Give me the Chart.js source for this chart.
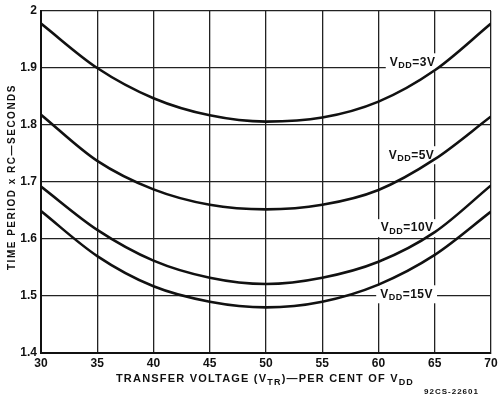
<!DOCTYPE html>
<html>
<head>
<meta charset="utf-8">
<script src="https://cdn.jsdelivr.net/npm/chart.js@4/dist/chart.umd.min.js"></script>
<style>
  html, body { margin: 0; padding: 0; background: #fff; }
  #wrap { position: relative; width: 498px; height: 399px; }
</style>
</head>
<body>
<div id="wrap"><canvas id="chart" width="498" height="399"></canvas></div>
<script>
// transfer voltage, per cent of VDD
const transferPct = [30, 35, 40, 45, 50, 55, 60, 65, 70];

// time period x RC (seconds)
const vdd3 = [1.978, 1.900, 1.847, 1.817, 1.806, 1.813, 1.841, 1.896, 1.978];
const vdd5 = [1.818, 1.737, 1.687, 1.660, 1.652, 1.660, 1.686, 1.740, 1.815];
const vdd10 = [1.692, 1.616, 1.562, 1.532, 1.521, 1.532, 1.560, 1.612, 1.694];
const vdd15 = [1.649, 1.570, 1.517, 1.490, 1.480, 1.490, 1.520, 1.572, 1.648];

const seriesNames = ["3V", "5V", "10V", "15V"];
// where each curve label sits (x %, y seconds)
const labelX = [61.0, 60.9, 60.2, 60.15];
const labelY = [1.910, 1.747, 1.619, 1.503];

const INK = "#111";
const FONT = "'Liberation Sans', Arial, sans-serif";

const toPoints = ys => transferPct.map((x, i) => ({ x, y: ys[i] }));

const line = data => ({
  data: toPoints(data),
  borderColor: INK,
  borderWidth: 2.6,
  pointRadius: 0,
  cubicInterpolationMode: "monotone",
  fill: false,
});

// draws runs of text where some parts are subscripts
const drawParts = (ctx, parts, x, y, size) => {
  let cx = x;
  parts.forEach(([text, sub]) => {
    const s = sub ? Math.round(size * 0.78) : size;
    ctx.font = `bold ${s}px ${FONT}`;
    ctx.fillText(text, cx, sub ? y + size * 0.3 : y);
    cx += ctx.measureText(text).width;
  });
  return cx - x;
};

const measureParts = (ctx, parts, size) => {
  let w = 0;
  parts.forEach(([text, sub]) => {
    const s = sub ? Math.round(size * 0.78) : size;
    ctx.font = `bold ${s}px ${FONT}`;
    w += ctx.measureText(text).width;
  });
  return w;
};

const textPlugin = {
  id: "textPlugin",
  beforeDatasetsDraw(chart) {
    const { ctx, scales } = chart;
    const xs = scales.x;
    const ys = scales.y;
    ctx.save();
    ctx.textBaseline = "middle";
    ctx.textAlign = "left";
    ctx.letterSpacing = "0.5px";
    seriesNames.forEach((name, i) => {
      const parts = [["V", false], ["DD", true], ["=" + name, false]];
      const px = xs.getPixelForValue(labelX[i]);
      const py = ys.getPixelForValue(labelY[i]);
      const w = measureParts(ctx, parts, 12);
      ctx.fillStyle = "#fff";
      ctx.fillRect(px - 4, py - 9, w + 8, 18);
      ctx.fillStyle = INK;
      drawParts(ctx, parts, px, py, 12);
    });
    ctx.restore();
  },
  afterDraw(chart) {
    const { ctx } = chart;
    ctx.save();
    ctx.fillStyle = INK;
    ctx.textBaseline = "middle";
    ctx.textAlign = "left";

    // y axis title, rotated
    ctx.save();
    ctx.letterSpacing = "1.5px";
    ctx.translate(12, 177);
    ctx.rotate(-Math.PI / 2);
    ctx.font = `bold 10px ${FONT}`;
    ctx.textAlign = "center";
    ctx.fillText("TIME PERIOD x RC\u2014SECONDS", 0, 0);
    ctx.restore();

    // x axis title with subscripts
    ctx.letterSpacing = "1.2px";
    const xParts = [
      ["TRANSFER VOLTAGE (V", false], ["TR", true],
      [")\u2014PER CENT OF V", false], ["DD", true],
    ];
    const w = measureParts(ctx, xParts, 11);
    drawParts(ctx, xParts, 265 - w / 2, 379, 11);

    ctx.letterSpacing = "1px";
    ctx.font = `bold 8px ${FONT}`;
    ctx.fillText("92CS-22601", 424, 392);
    ctx.restore();
  },
};

new Chart(document.getElementById("chart"), {
  type: "line",
  data: {
    datasets: [line(vdd3), line(vdd5), line(vdd10), line(vdd15)],
  },
  options: {
    responsive: false,
    animation: false,
    layout: { padding: { top: 11, right: 7, left: 0, bottom: 0 } },
    plugins: {
      legend: { display: false },
      tooltip: { enabled: false },
    },
    scales: {
      x: {
        type: "linear",
        min: 30,
        max: 70,
        afterFit: s => {
          s.height = 46;
          s.paddingRight = 0;
          s.paddingLeft = 0;
        },
        ticks: {
          stepSize: 5,
          color: INK,
          padding: 3,
          font: { family: FONT, size: 12, weight: "bold" },
        },
        grid: { color: "#222", lineWidth: 1.3, drawTicks: false },
        border: { color: INK, width: 2 },
      },
      y: {
        min: 1.4,
        max: 2.0,
        afterFit: s => {
          s.width = 41;
          s.paddingTop = 0;
          s.paddingBottom = 0;
        },
        ticks: {
          stepSize: 0.1,
          color: INK,
          padding: 4,
          font: { family: FONT, size: 12, weight: "bold" },
          callback: v => (Math.abs(v - 2) < 1e-9 ? "2" : v.toFixed(1)),
        },
        grid: { color: "#222", lineWidth: 1.3, drawTicks: false },
        border: { color: INK, width: 2 },
      },
    },
  },
  plugins: [textPlugin],
});
</script>
</body>
</html>
